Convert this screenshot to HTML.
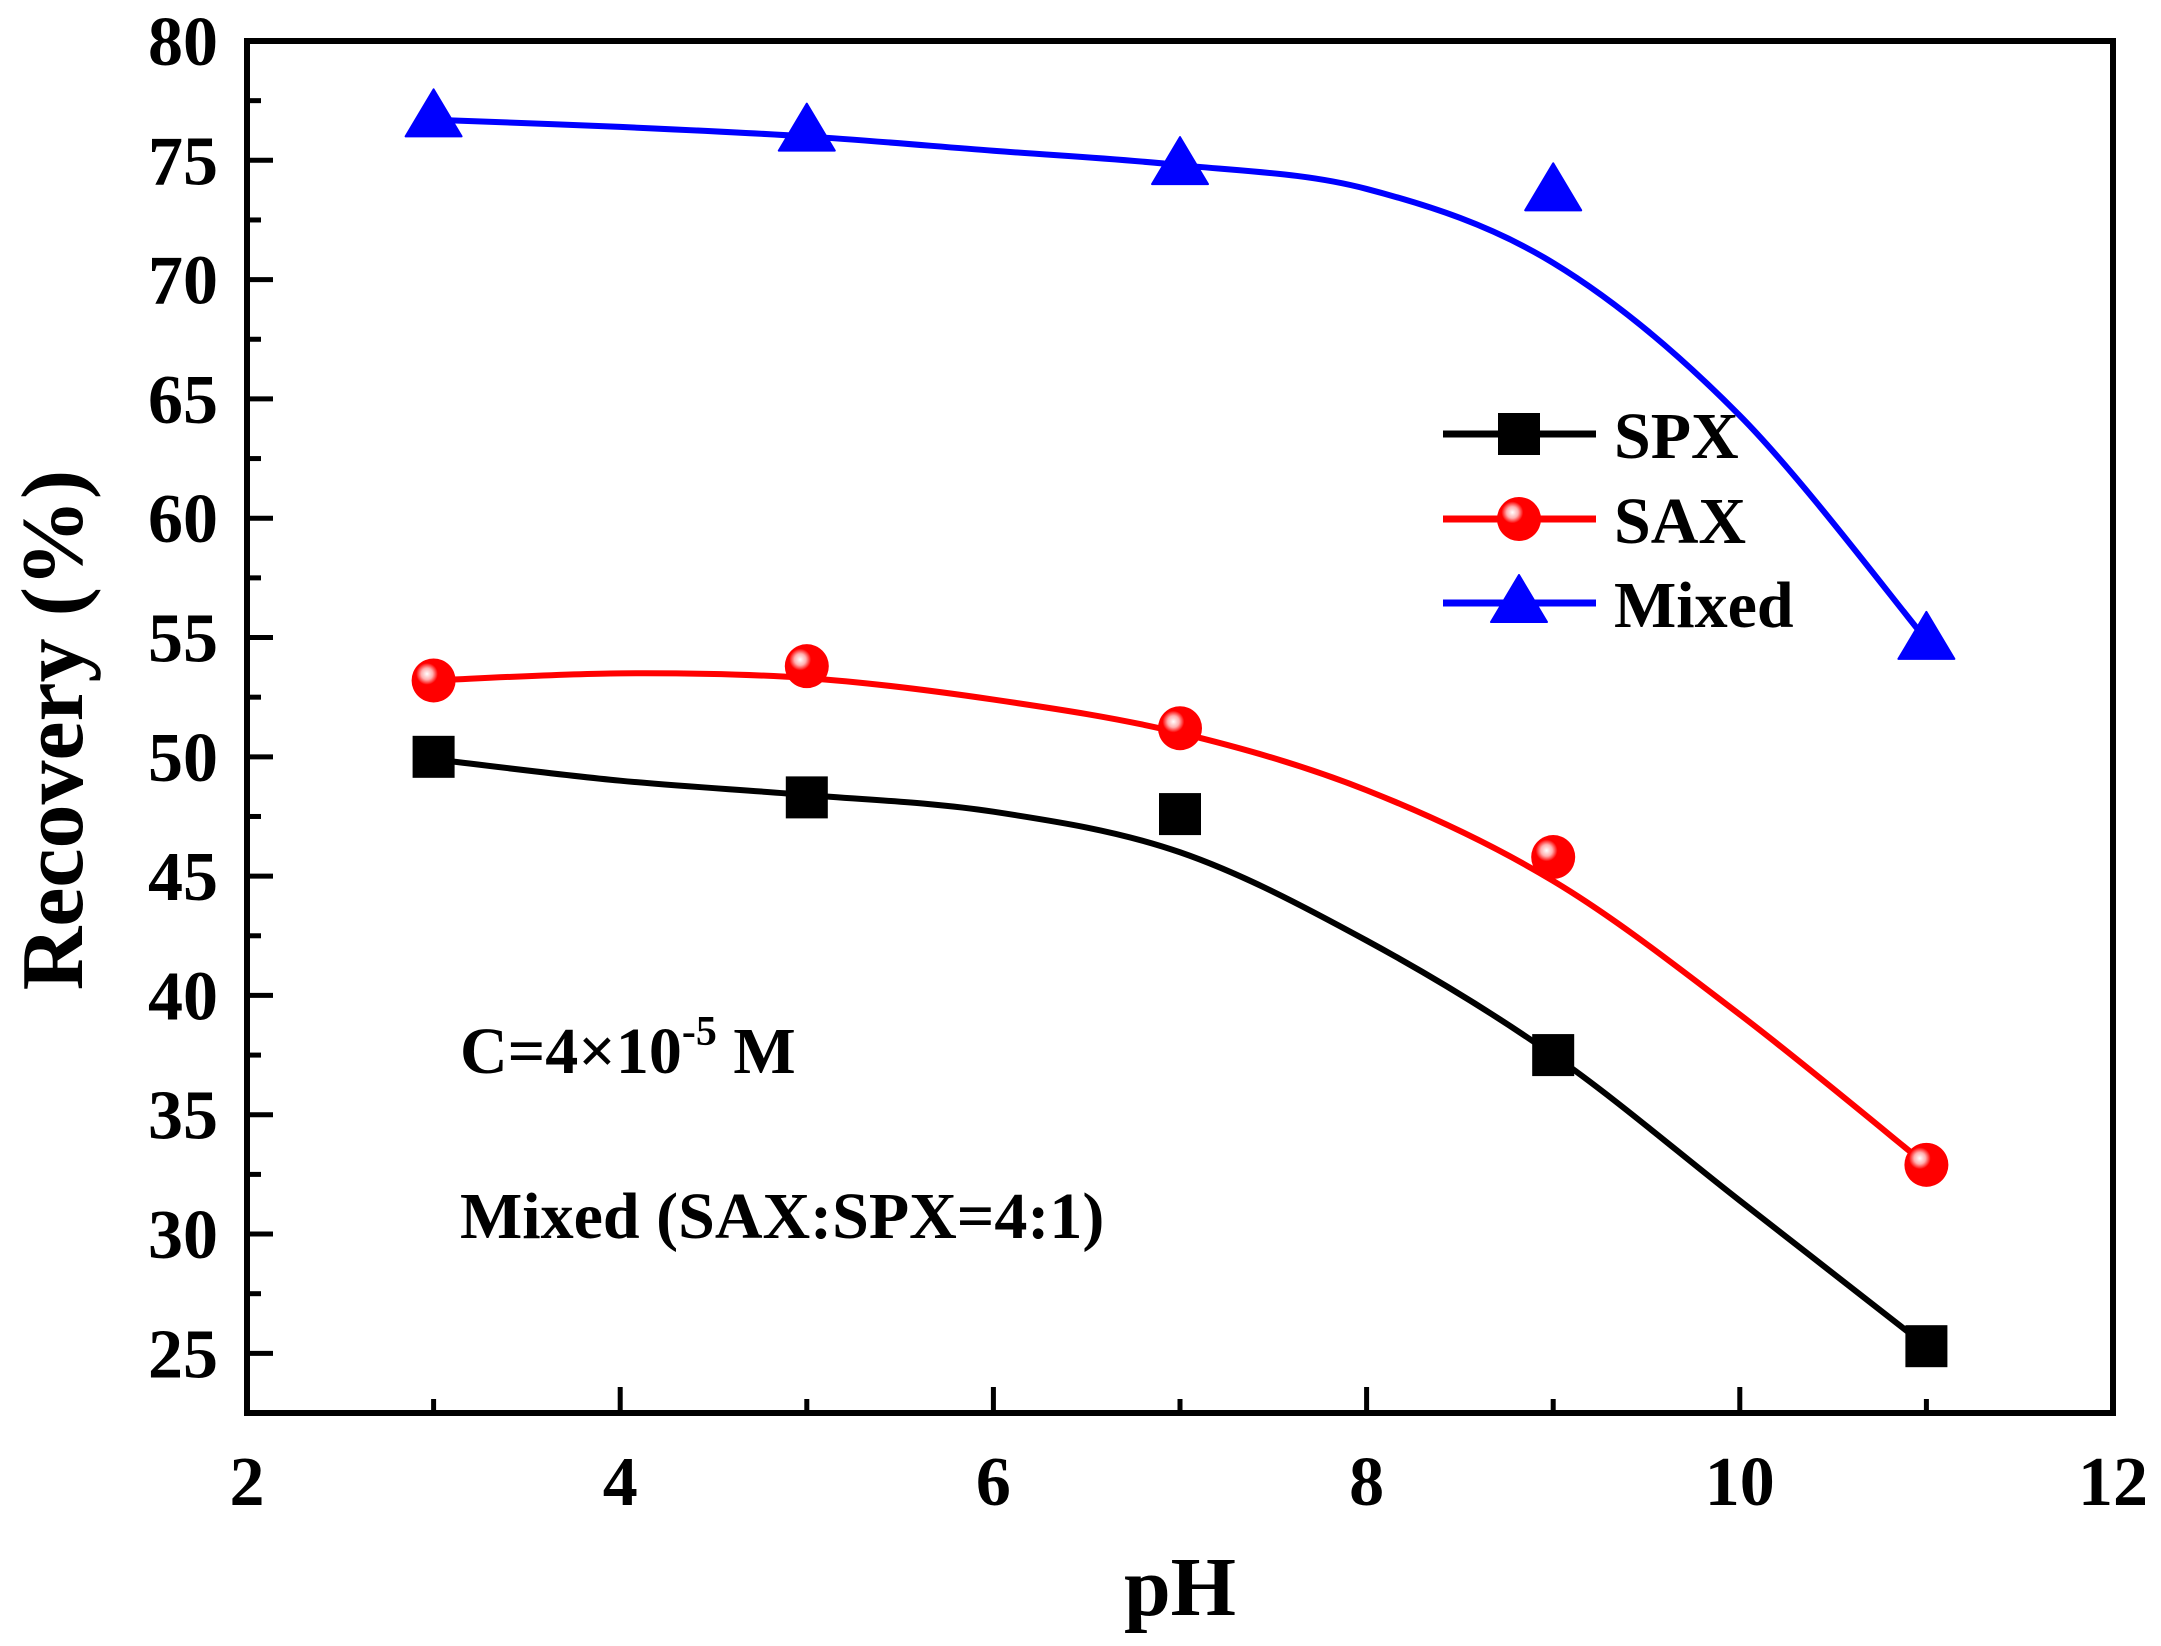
<!DOCTYPE html>
<html><head><meta charset="utf-8"><style>
html,body{margin:0;padding:0;background:#fff;}
svg{display:block;font-family:"Liberation Serif","Times New Roman",serif;font-weight:bold;}
</style></head><body>
<svg id="chart" width="2161" height="1646" viewBox="0 0 2161 1646" xmlns="http://www.w3.org/2000/svg">
<defs>
<radialGradient id="sphere" cx="0.35" cy="0.35" r="0.65">
<stop offset="0" stop-color="#fff"/><stop offset="0.2" stop-color="#ffb0b0"/><stop offset="0.38" stop-color="#ff0000"/><stop offset="1" stop-color="#ff0000"/>
</radialGradient>
</defs>
<g id="plot"></g>
</svg>
<script>
const xValues = [3, 5, 7, 9, 11];
const spxValues = [50.0, 48.3, 47.6, 37.5, 25.3];
const saxValues = [53.2, 53.8, 51.2, 45.8, 32.9];
const mixedValues = [76.8, 76.2, 74.8, 73.7, 54.9];
const fitX = [3, 4, 5, 6, 7, 8, 9, 10, 11];
const spxFit = [49.9, 49.0, 48.4, 47.7, 46.0, 42.3, 37.5, 31.4, 25.3];
const saxFit = [53.2, 53.5, 53.3, 52.4, 51.0, 48.6, 44.8, 39.2, 32.9];
const mixedFit = [76.7, 76.4, 76.0, 75.4, 74.8, 73.8, 70.7, 64.3, 54.9];
const xTicks = [2, 4, 6, 8, 10, 12];
const yTicks = [25, 30, 35, 40, 45, 50, 55, 60, 65, 70, 75, 80];

const L = 247, R = 2113, T = 41, B = 1413;
const xMin = 2, xMax = 12, yMin = 22.5, yMax = 80;
const sx = v => L + (v - xMin) / (xMax - xMin) * (R - L);
const sy = v => B - (v - yMin) / (yMax - yMin) * (B - T);
const NS = 'http://www.w3.org/2000/svg';
const g = document.getElementById('plot');
function mk(tag, attrs, parent) {
  const e = document.createElementNS(NS, tag);
  for (const k in attrs) e.setAttribute(k, attrs[k]);
  (parent || g).appendChild(e);
  return e;
}
function curve(xs, ys) {
  const p = xs.map((x, i) => [sx(x), sy(ys[i])]);
  let d = 'M' + p[0][0] + ',' + p[0][1];
  for (let i = 0; i < p.length - 1; i++) {
    const p0 = p[Math.max(0, i - 1)], p1 = p[i], p2 = p[i + 1], p3 = p[Math.min(p.length - 1, i + 2)];
    const c1 = [p1[0] + (p2[0] - p0[0]) / 6, p1[1] + (p2[1] - p0[1]) / 6];
    const c2 = [p2[0] - (p3[0] - p1[0]) / 6, p2[1] - (p3[1] - p1[1]) / 6];
    d += ' C' + c1 + ' ' + c2 + ' ' + p2;
  }
  return d;
}
function square(cx, cy, name) {
  const e = mk('rect', {x: cx - 21, y: cy - 21, width: 42, height: 42, fill: '#000'});
  
  
}
function circle(cx, cy, name) {
  const e = mk('circle', {cx: cx, cy: cy, r: 22, fill: 'url(#sphere)'});
  
  
}
function tri(cx, cy, name) {
  const e = mk('polygon', {points: (cx) + ',' + (cy - 28) + ' ' + (cx - 28) + ',' + (cy + 19) + ' ' + (cx + 28) + ',' + (cy + 19), fill: '#0000ff', 'stroke': '#0000ff', 'stroke-width': 2, 'stroke-linejoin': 'round'});
  
  
}

const lineSpx = mk('path', {d: curve(fitX, spxFit), fill: 'none', stroke: '#000', 'stroke-width': 6});


const lineSax = mk('path', {d: curve(fitX, saxFit), fill: 'none', stroke: '#ff0000', 'stroke-width': 6});


const lineMix = mk('path', {d: curve(fitX, mixedFit), fill: 'none', stroke: '#0000ff', 'stroke-width': 6});



xValues.forEach((x, i) => {
  square(sx(x), sy(spxValues[i]), 'spx-point');
  circle(sx(x), sy(saxValues[i]), 'sax-point');
  tri(sx(x), sy(mixedValues[i]), 'mixed-point');
});

const frame = mk('rect', {x: L, y: T, width: R - L, height: B - T, fill: 'none', stroke: '#000', 'stroke-width': 6});



xTicks.forEach((t, i) => {
  const x = sx(t);
  const tk = mk('line', {x1: x, x2: x, y1: B, y2: B - 26, stroke: '#000', 'stroke-width': 5});
  
  
  if (i < xTicks.length - 1) {
    const mx = sx(t + 1);
    const mt = mk('line', {x1: mx, x2: mx, y1: B, y2: B - 14, stroke: '#000', 'stroke-width': 5});
    
    
  }
  const lb = mk('text', {x: x, y: 1505, 'text-anchor': 'middle', 'font-size': 70});
  lb.textContent = t;
  
  
});
yTicks.forEach((t, i) => {
  const y = sy(t);
  const tk = mk('line', {x1: L, x2: L + 26, y1: y, y2: y, stroke: '#000', 'stroke-width': 5});
  
  
  const my = sy(t - 2.5);
  const mt = mk('line', {x1: L, x2: L + 14, y1: my, y2: my, stroke: '#000', 'stroke-width': 5});
  
  
  const lb = mk('text', {x: 218, y: y + 24, 'text-anchor': 'end', 'font-size': 70});
  lb.textContent = t;
  
  
});

const xt = mk('text', {x: 1180, y: 1615, 'text-anchor': 'middle', 'font-size': 84});
xt.textContent = 'pH';


const yt = mk('text', {x: 0, y: 0, 'text-anchor': 'middle', 'font-size': 88, transform: 'translate(82,730) rotate(-90)'});
yt.textContent = 'Recovery (%)';



const a1 = mk('text', {x: 460, y: 1073, 'font-size': 66});


a1.innerHTML = 'C=4×10<tspan dy="-28" font-size="42">-5</tspan><tspan dy="28"> M</tspan>';
const a2 = mk('text', {x: 460, y: 1238, 'font-size': 66});
a2.textContent = 'Mixed (SAX:SPX=4:1)';



const leg = [['SPX', '#000', 434, square, 'legend-spx'], ['SAX', '#ff0000', 519, circle, 'legend-sax'], ['Mixed', '#0000ff', 603, tri, 'legend-mixed']];
leg.forEach(e => {
  const ln = mk('line', {x1: 1443, x2: 1596, y1: e[2], y2: e[2], stroke: e[1], 'stroke-width': 7});
  
  
  e[3](1519, e[2], e[4] + '-marker');
  const tx = mk('text', {x: 1614, y: e[2] + 24, 'font-size': 66});
  tx.textContent = e[0];
  
  
});
</script>
</body></html>
